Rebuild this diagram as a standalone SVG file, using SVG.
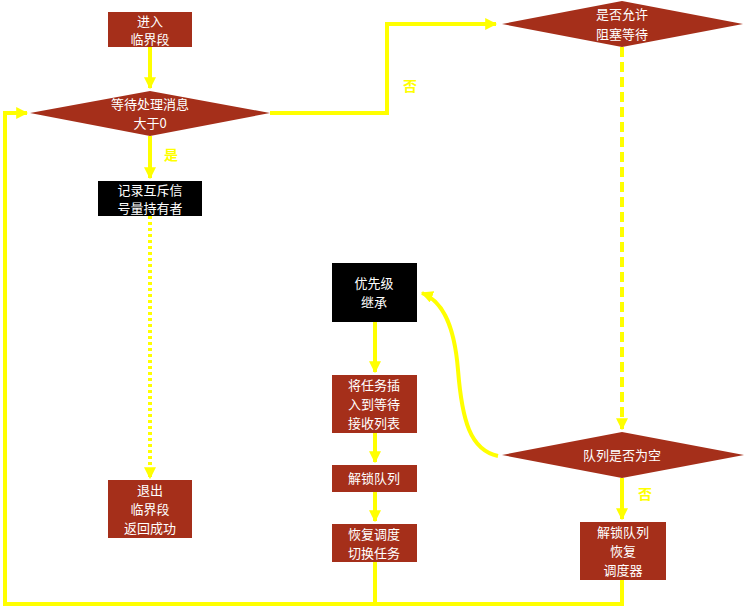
<svg xmlns="http://www.w3.org/2000/svg" width="751" height="608" viewBox="0 0 751 608">
<style>
.r{fill:#a52f1a}.b{fill:#000}
.t{font-family:"Noto Sans CJK SC","Liberation Sans",sans-serif;font-size:13px;fill:#fff;text-anchor:middle}
.y{font-family:"Noto Sans CJK SC","Liberation Sans",sans-serif;font-size:14px;fill:#ffff00;font-weight:bold}
.l{fill:none;stroke:#ffff00;stroke-width:4}
</style>
<defs><marker id="a" viewBox="0 0 10 10" refX="9" refY="5" markerWidth="3" markerHeight="3" orient="auto"><path d="M0,0L10,5L0,10z" fill="#ffff00"/></marker></defs>
<rect width="751" height="608" fill="#fff"/>
<g id="connectors">
<path class="l" d="M150,47V88" marker-end="url(#a)"/>
<path class="l" d="M150,136V178" marker-end="url(#a)"/>
<path class="l" d="M150,216V478" stroke-dasharray="3 3" marker-end="url(#a)"/>
<path class="l" d="M270,113H387V24H496" marker-end="url(#a)"/>
<path class="l" d="M622,47V429" stroke-dasharray="10 5" marker-end="url(#a)"/>
<path class="l" d="M498,456C470,450 462,420 458,370C454,320 440,300 422,293" marker-end="url(#a)"/>
<path class="l" d="M375,322V372" marker-end="url(#a)"/>
<path class="l" d="M375,433V462" marker-end="url(#a)"/>
<path class="l" d="M375,492V521" marker-end="url(#a)"/>
<path class="l" d="M622,478V519" marker-end="url(#a)"/>
<path class="l" d="M375,562V604M622,580V604H5V113H27" marker-end="url(#a)"/>
<text class="y" x="403" y="91">否</text>
<text class="y" x="164" y="160">是</text>
<text class="y" x="638" y="499">否</text>
</g>
<g id="n1"><rect class="r" x="108" y="12" width="84" height="35"/><text class="t" x="150" y="26">进入</text><text class="t" x="150" y="44">临界段</text></g>
<g id="n2"><polygon class="r" points="30,113 150,91 270,113 150,136"/><text class="t" x="150" y="109">等待处理消息</text><text class="t" x="150" y="128">大于0</text></g>
<g id="n3"><rect class="b" x="98" y="181" width="104" height="35"/><text class="t" x="150" y="195">记录互斥信</text><text class="t" x="150" y="213">号量持有者</text></g>
<g id="n4"><rect class="r" x="108" y="480" width="84" height="58"/><text class="t" x="150" y="495">退出</text><text class="t" x="150" y="514">临界段</text><text class="t" x="150" y="533">返回成功</text></g>
<g id="n5"><polygon class="r" points="502,24 622,1 743,24 622,47"/><text class="t" x="622" y="19">是否允许</text><text class="t" x="622" y="39">阻塞等待</text></g>
<g id="n6"><rect class="b" x="332" y="263" width="85" height="59"/><text class="t" x="374" y="288">优先级</text><text class="t" x="374" y="307">继承</text></g>
<g id="n7"><rect class="r" x="332" y="375" width="85" height="58"/><text class="t" x="374" y="390">将任务插</text><text class="t" x="374" y="409">入到等待</text><text class="t" x="374" y="428">接收列表</text></g>
<g id="n8"><rect class="r" x="332" y="465" width="85" height="27"/><text class="t" x="374" y="483">解锁队列</text></g>
<g id="n9"><rect class="r" x="332" y="524" width="85" height="38"/><text class="t" x="374" y="539">恢复调度</text><text class="t" x="374" y="558">切换任务</text></g>
<g id="n10"><polygon class="r" points="502,455 622,432 744,455 622,478"/><text class="t" x="622" y="460">队列是否为空</text></g>
<g id="n11"><rect class="r" x="580" y="522" width="86" height="58"/><text class="t" x="623" y="537">解锁队列</text><text class="t" x="623" y="556">恢复</text><text class="t" x="623" y="575">调度器</text></g>
</svg>
